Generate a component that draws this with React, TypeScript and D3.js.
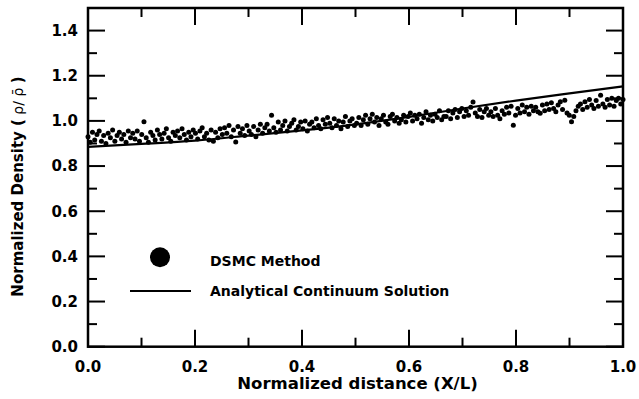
import React from "react";
import * as d3 from "d3";

const dsmcDensity: number[] = [
  0.93, 0.905, 0.95, 0.915, 0.94, 0.955, 0.91, 0.935, 0.9, 0.945, 0.925, 0.96, 0.91, 0.935, 0.95, 0.92, 0.94, 0.905, 0.955, 0.925,
  0.945, 0.92, 0.955, 0.91, 0.94, 0.996, 0.925, 0.905, 0.95, 0.935, 0.915, 0.96, 0.94, 0.92, 0.945, 0.965, 0.925, 0.91, 0.95, 0.935,
  0.955, 0.925, 0.965, 0.94, 0.915, 0.95, 0.93, 0.96, 0.945, 0.92, 0.955, 0.97, 0.93, 0.945, 0.915, 0.96, 0.91, 0.95, 0.925, 0.965,
  0.94, 0.97, 0.945, 0.98, 0.93, 0.96, 0.907, 0.975, 0.945, 0.965, 0.935, 0.98, 0.955, 0.94, 0.975, 0.93, 0.96, 0.985, 0.945, 0.97,
  0.985, 0.955, 1.025, 0.97, 0.95, 0.995, 0.96, 0.98, 1.0, 0.955, 0.975, 0.99, 1.005, 0.96, 0.975, 0.995, 0.965, 1.0, 0.955, 0.985,
  0.995, 0.97, 1.01, 0.98, 0.965, 1.005, 0.985, 1.015, 0.99, 0.97, 1.01, 0.98, 1.0, 0.965, 0.995, 1.02, 0.975, 1.0, 1.01, 0.98,
  0.99, 1.015, 0.98, 1.005, 1.025, 0.985, 1.01, 1.03, 0.995, 1.015, 0.98, 1.01, 1.025, 0.995, 0.985, 1.02, 1.03, 1.0, 1.015, 0.99,
  1.005, 1.025, 0.995, 1.02, 1.035, 1.0, 1.025, 1.01, 1.03, 0.99, 1.015, 1.04, 1.005, 1.025, 1.0, 1.03, 1.015, 1.045, 1.005, 1.02,
  1.02, 1.045, 1.01, 1.035, 1.05, 1.015, 1.04, 1.055, 1.02, 1.045, 1.025, 1.06, 1.084, 1.035, 1.02, 1.05, 1.015, 1.04, 1.055, 1.025,
  1.04, 1.02, 1.055, 1.025, 1.01, 1.045, 1.03, 1.06, 1.035, 1.065, 0.981, 1.025, 1.055, 1.035, 1.07, 1.04, 1.06, 1.03, 1.065, 1.045,
  1.06, 1.04, 1.034, 1.07, 1.045, 1.075, 1.05, 1.08, 1.055, 1.04, 1.07, 1.085, 1.05, 1.092, 1.035, 1.025, 0.996, 1.02, 1.045, 1.065,
  1.075, 1.05, 1.085, 1.06, 1.095, 1.07, 1.055, 1.09, 1.065, 1.114, 1.075, 1.06, 1.095, 1.07, 1.1, 1.065, 1.09, 1.1, 1.075, 1.095,
];

const analyticX: number[] = [0.0, 0.1, 0.2, 0.3, 0.4, 0.5, 0.6, 0.7, 0.8, 0.9, 1.0];
const analyticY: number[] = [0.885, 0.898, 0.913, 0.935, 0.958, 0.985, 1.018, 1.055, 1.09, 1.122, 1.153];

const xTickLabels: number[] = [0, 0.2, 0.4, 0.6, 0.8, 1.0];
const yTickLabels: number[] = [0, 0.2, 0.4, 0.6, 0.8, 1.0, 1.2, 1.4];
const minorX: number[] = [0.1, 0.3, 0.5, 0.7, 0.9];
const minorY: number[] = [0.1, 0.3, 0.5, 0.7, 0.9, 1.1, 1.3];

const legendLabels: string[] = ["DSMC Method", "Analytical Continuum Solution"];

export default function App() {
  const W = 639;
  const H = 399;
  const left = 88;
  const right = 623;
  const top = 8;
  const bottom = 346.7;

  const x = d3.scaleLinear().domain([0, 1]).range([left, right]);
  const y = d3.scaleLinear().domain([0, 1.5]).range([bottom, top]);

  const n = dsmcDensity.length;
  const pts = dsmcDensity.map((v, i) => ({ xv: i / (n - 1), yv: v }));

  const line = d3
    .line<number>()
    .x((_, i) => x(analyticX[i]))
    .y((d) => y(d))
    .curve(d3.curveMonotoneX);

  const font = "'DejaVu Sans', Verdana, sans-serif";
  const major = 17;
  const minor = 9;

  return (
    <svg
      width={W}
      height={H}
      style={{ position: "absolute", left: 0, top: 0, background: "#fff" }}
      fontFamily={font}
    >
      <rect x={0} y={0} width={W} height={H} fill="#fff" />
      {/* data */}
      {pts.map((p, i) => (
        <circle key={i} cx={x(p.xv)} cy={y(p.yv)} r={2.5} fill="#000" />
      ))}
      <path d={line(analyticY) || ""} fill="none" stroke="#000" strokeWidth={2.2} />

      {/* ticks */}
      <g stroke="#000" strokeWidth={2}>
        {xTickLabels.map((t) => (
          <g key={"xt" + t}>
            <line x1={x(t)} x2={x(t)} y1={bottom} y2={bottom - major} />
            <line x1={x(t)} x2={x(t)} y1={top} y2={top + major} />
          </g>
        ))}
        {minorX.map((t) => (
          <g key={"xm" + t}>
            <line x1={x(t)} x2={x(t)} y1={bottom} y2={bottom - minor} />
            <line x1={x(t)} x2={x(t)} y1={top} y2={top + minor} />
          </g>
        ))}
        {yTickLabels.map((t) => (
          <g key={"yt" + t}>
            <line x1={left} x2={left + major} y1={y(t)} y2={y(t)} />
            <line x1={right} x2={right - major} y1={y(t)} y2={y(t)} />
          </g>
        ))}
        {minorY.map((t) => (
          <g key={"ym" + t}>
            <line x1={left} x2={left + minor} y1={y(t)} y2={y(t)} />
            <line x1={right} x2={right - minor} y1={y(t)} y2={y(t)} />
          </g>
        ))}
      </g>
      <rect x={left} y={top} width={right - left} height={bottom - top} fill="none" stroke="#000" strokeWidth={2.5} />

      {/* tick labels */}
      <g fontSize={15} fontWeight="bold" fill="#000">
        {xTickLabels.map((t) => (
          <text key={"xl" + t} x={x(t)} y={371.5} textAnchor="middle">
            {t.toFixed(1)}
          </text>
        ))}
        {yTickLabels.map((t) => (
          <text key={"yl" + t} x={78} y={y(t)} dy="0.36em" textAnchor="end">
            {t.toFixed(1)}
          </text>
        ))}
      </g>

      {/* axis titles */}
      <text x={357.5} y={389} textAnchor="middle" fontSize={16.5} fontWeight="bold">
        Normalized distance (X/L)
      </text>
      <text
        transform={`translate(23,186.5) rotate(-90)`}
        textAnchor="middle"
        fontSize={15}
        fontWeight="bold"
      >
        Normalized Density (<tspan fontWeight="normal" fontSize={14}> ρ/ ρ̄ </tspan>)
      </text>

      {/* legend */}
      <circle cx={160} cy={257.3} r={10} fill="#000" />
      <line x1={130} x2={191} y1={291} y2={291} stroke="#000" strokeWidth={2.2} />
      <g fontSize={14} fontWeight="bold">
        <text x={210} y={261} dy="0.36em">{legendLabels[0]}</text>
        <text x={210} y={291} dy="0.36em">{legendLabels[1]}</text>
      </g>
    </svg>
  );
}
